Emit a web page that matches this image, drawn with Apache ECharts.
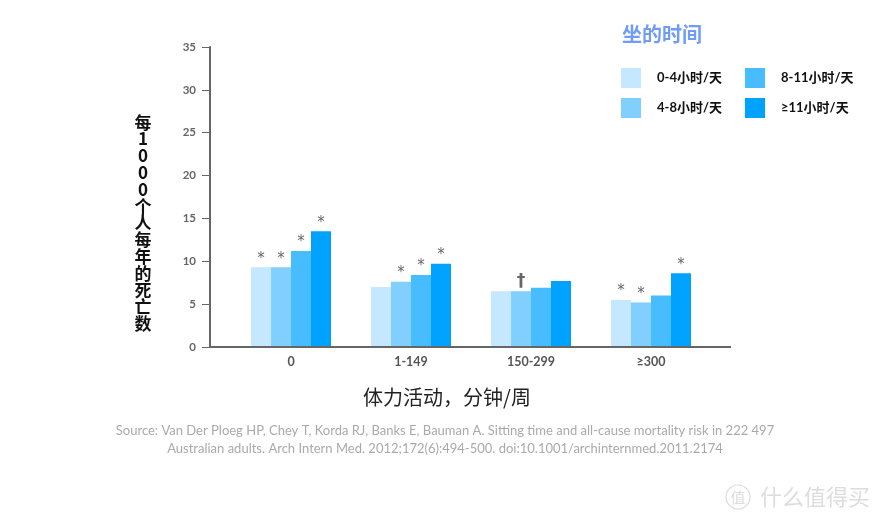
<!DOCTYPE html>
<html>
<head>
<meta charset="utf-8">
<script src="https://cdn.jsdelivr.net/npm/echarts@6/dist/echarts.min.js"></script>
<style>
  html, body { margin: 0; padding: 0; background: #fff; }
  #chart { width: 890px; height: 524px; }
</style>
</head>
<body>
<div id="chart"></div>
<script>
// 数据
var categories = ['0', '1-149', '150-299', '≥300']
var seriesNames = ['0-4小时/天', '4-8小时/天', '8-11小时/天', '≥11小时/天']
var values = [
  [9.3, 7.0, 6.5, 5.5],
  [9.3, 7.6, 6.5, 5.2],
  [11.2, 8.4, 6.9, 6.0],
  [13.5, 9.7, 7.7, 8.6]
]
// 显著性标记，按系列、类别排列
var markers = [
  ['*', '', '', '*'],
  ['*', '*', '†', '*'],
  ['*', '*', '', ''],
  ['*', '*', '', '*']
]
var yTicks = { min: 0, max: 35, interval: 5 }
var colors = ['#c3e8ff', '#80cfff', '#47bdff', '#00a2ff']

var font = 'Lato, "Noto Sans CJK SC", sans-serif'
var cjk = '"Noto Sans CJK SC", sans-serif'
var chart = echarts.init(document.getElementById('chart'))

var series = seriesNames.map(function (name, i) {
  return {
    name: name,
    type: 'bar',
    barWidth: 20,
    barGap: '0%',
    itemStyle: { color: colors[i] },
    label: {
      show: true,
      position: 'top',
      distance: 1,
      color: '#666',
      fontSize: 15,
      fontFamily: '"DejaVu Sans", sans-serif',
      formatter: function (p) {
        var m = markers[i][p.dataIndex]
        return m === '†' ? '{d|†}' : m
      },
      rich: {
        d: { fontSize: 17, fontWeight: 'bold', color: '#666', fontFamily: '"DejaVu Sans", sans-serif' }
      }
    },
    data: values[i]
  }
})

var legendBase = {
  orient: 'vertical',
  top: 68,
  padding: 0,
  itemWidth: 20,
  itemHeight: 20,
  itemGap: 10,
  icon: 'rect',
  textStyle: { fontSize: 13, fontWeight: 'bold', color: '#111', padding: [0, 0, 0, 11] }
}

chart.setOption({
  animation: false,
  textStyle: { fontFamily: font },
  color: colors,
  grid: {
    left: 231,
    right: 179,
    top: 47,
    bottom: 177
  },
  legend: [
    Object.assign({}, legendBase, { left: 621, data: [seriesNames[0], seriesNames[1]] }),
    Object.assign({}, legendBase, { left: 745, data: [seriesNames[2], seriesNames[3]] })
  ],
  xAxis: {
    type: 'category',
    data: categories,
    axisLine: { show: false },
    axisTick: { show: false },
    axisLabel: {
      margin: 9,
      color: '#555',
      fontSize: 12.5,
      fontWeight: 'bold'
    }
  },
  yAxis: {
    type: 'value',
    min: yTicks.min,
    max: yTicks.max,
    interval: yTicks.interval,
    offset: 21,
    axisLine: { show: true, lineStyle: { color: '#666', width: 2 } },
    axisTick: { show: true, length: 8, lineStyle: { color: '#666', width: 1 } },
    axisLabel: {
      margin: 14,
      color: '#666',
      fontSize: 11.5,
      fontWeight: 'bold'
    },
    splitLine: { show: false }
  },
  graphic: [
    // x轴线比网格两端各长出一段
    {
      type: 'line',
      shape: { x1: 209, y1: 347, x2: 731, y2: 347 },
      style: { stroke: '#666', lineWidth: 2 },
      z: 10
    },
    {
      type: 'text',
      left: 622,
      top: 24,
      style: { text: '坐的时间', fill: '#6f9cf8', fontSize: 20, fontWeight: 'bold', fontFamily: cjk }
    },
    {
      type: 'text',
      x: 143,
      y: 223,
      style: {
        text: '每1000个人每年的死亡数'.split('').join('\n'),
        fill: '#111',
        fontSize: 17,
        fontWeight: 'bold',
        lineHeight: 16.8,
        align: 'center',
        verticalAlign: 'middle',
        fontFamily: cjk
      }
    },
    {
      type: 'text',
      x: 447,
      y: 397,
      style: {
        text: '体力活动，分钟/周',
        fill: '#222',
        fontSize: 20,
        align: 'center',
        verticalAlign: 'middle',
        fontFamily: cjk
      }
    },
    {
      type: 'text',
      x: 445,
      y: 440,
      style: {
        text: 'Source: Van Der Ploeg HP, Chey T, Korda RJ, Banks E, Bauman A. Sitting time and all-cause mortality risk in 222 497\nAustralian adults. Arch Intern Med. 2012;172(6):494-500. doi:10.1001/archinternmed.2011.2174',
        fill: '#aaa',
        fontSize: 13,
        lineHeight: 18,
        align: 'center',
        verticalAlign: 'middle',
        fontFamily: font
      }
    },
    // 水印
    {
      type: 'circle',
      shape: { cx: 738, cy: 497, r: 12 },
      style: { fill: 'none', stroke: '#ddd', lineWidth: 1.2 }
    },
    {
      type: 'text',
      x: 738,
      y: 497,
      style: { text: '值', fill: '#ddd', fontSize: 15, align: 'center', verticalAlign: 'middle', fontFamily: cjk }
    },
    {
      type: 'text',
      x: 760,
      y: 497,
      style: { text: '什么值得买', fill: '#ddd', fontSize: 22, verticalAlign: 'middle', fontFamily: cjk }
    }
  ],
  series: series
})
</script>
</body>
</html>
